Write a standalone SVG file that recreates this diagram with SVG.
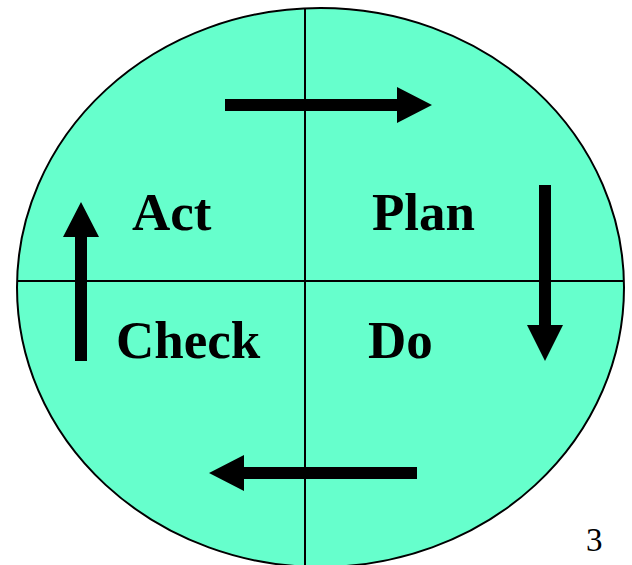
<svg xmlns="http://www.w3.org/2000/svg" width="632" height="565" viewBox="0 0 632 565">
<style>
.lbl{font-family:"Liberation Serif","Times New Roman",serif;font-weight:bold;font-size:53px;fill:#000}
.num{font-family:"Liberation Serif","Times New Roman",serif;font-size:33px;fill:#000}
.div{stroke:#000;stroke-width:2;fill:none}
.arr{fill:#000;stroke:none}
</style>
<rect width="632" height="565" fill="#fff"/>
<g id="circle">
<ellipse cx="320.5" cy="287.5" rx="303.5" ry="279.5" fill="#66FFCC" stroke="#000" stroke-width="2"/>
<line class="div" x1="305" y1="9" x2="305" y2="565"/>
<line class="div" x1="17" y1="281" x2="624" y2="281"/>
</g>
<g id="connectors">
<polygon class="arr" points="225,99 397,99 397,87 432,105 397,123 397,111 225,111"/>
<polygon class="arr" points="539,185 551,185 551,325 563,325 545,361 527,325 539,325"/>
<polygon class="arr" points="417,467 417,479 244,479 244,491 209,473 244,455 244,467"/>
<polygon class="arr" points="75,361 87,361 87,237 99,237 81,202 63,237 75,237"/>
</g>
<g id="act"><text class="lbl" x="132" y="230">Act</text></g>
<g id="plan"><text class="lbl" x="372" y="230">Plan</text></g>
<g id="check"><text class="lbl" x="116" y="357.5">Check</text></g>
<g id="do"><text class="lbl" x="368" y="357.5">Do</text></g>
<g id="page"><text class="num" x="586" y="550.5">3</text></g>
</svg>
